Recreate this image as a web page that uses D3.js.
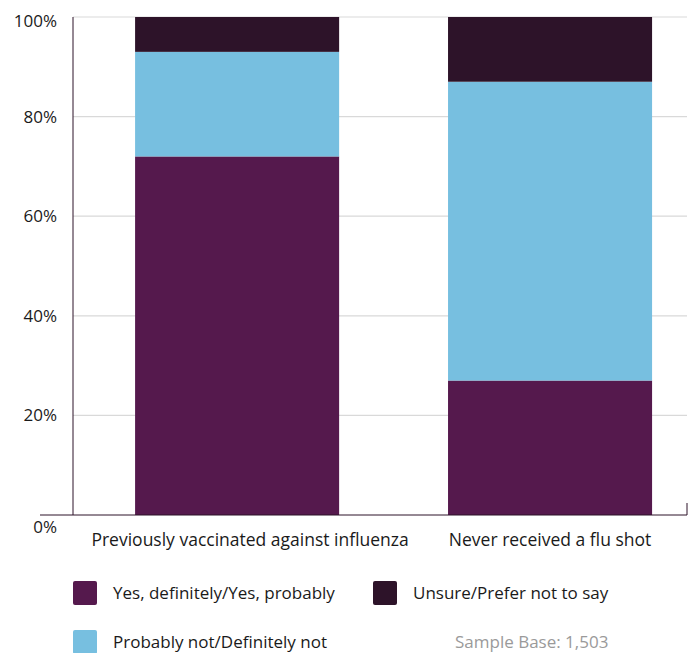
<!DOCTYPE html>
<html>
<head>
<meta charset="utf-8">
<script src="https://cdn.jsdelivr.net/npm/d3@7"></script>
<style>
  body { margin: 0; background: #fff; }
  text { font-family: "Open Sans", sans-serif; fill: #1a1a1a; }
</style>
</head>
<body>
<svg width="693" height="653"></svg>
<script>
var categories = ["Previously vaccinated against influenza", "Never received a flu shot"];
var seriesNames = ["Yes, definitely/Yes, probably", "Probably not/Definitely not", "Unsure/Prefer not to say"];
var yesValues = [72, 27];
var noValues = [21, 60];
var unsureValues = [7, 13];
var yTicks = [0, 20, 40, 60, 80, 100];
var colors = ["#55194d", "#77bfe0", "#2d1329"];

var svg = d3.select("svg");
var plotLeft = 73, plotRight = 687, plotTop = 17, plotBottom = 515;

var rows = categories.map(function (c, i) {
    return { cat: c, yes: yesValues[i], no: noValues[i], unsure: unsureValues[i] };
});
var keys = ["yes", "no", "unsure"];
var stack = d3.stack().keys(keys)(rows);

var x = d3.scaleBand()
    .domain(categories)
    .range([plotLeft, plotRight])
    .paddingInner(0.348)
    .paddingOuter(0.155)
    .align(0.64);

var y = d3.scaleLinear().domain([0, 100]).range([plotBottom, plotTop]);

// gridlines
svg.append("g")
    .selectAll("line")
    .data(yTicks.filter(function (d) { return d > 0; }))
    .enter().append("line")
    .attr("x1", plotLeft).attr("x2", plotRight)
    .attr("y1", function (d) { return y(d); })
    .attr("y2", function (d) { return y(d); })
    .style("stroke", "#d9d9d9")
    .style("stroke-width", 1.2);

// bars
svg.append("g")
    .selectAll("g")
    .data(stack)
    .enter().append("g")
    .attr("fill", function (d, i) { return colors[i]; })
    .selectAll("rect")
    .data(function (d) { return d; })
    .enter().append("rect")
    .attr("x", function (d) { return x(d.data.cat); })
    .attr("width", x.bandwidth())
    .attr("y", function (d) { return y(d[1]); })
    .attr("height", function (d) { return y(d[0]) - y(d[1]); });

// axes lines
svg.append("line")
    .attr("x1", plotLeft).attr("x2", plotLeft)
    .attr("y1", plotTop).attr("y2", plotBottom)
    .style("stroke", "#2d1329").style("stroke-width", 1);
svg.append("line")
    .attr("x1", 40).attr("x2", plotRight)
    .attr("y1", plotBottom).attr("y2", plotBottom)
    .style("stroke", "#2d1329").style("stroke-width", 1);
svg.append("line")
    .attr("x1", plotRight).attr("x2", plotRight)
    .attr("y1", plotBottom - 12).attr("y2", plotBottom)
    .style("stroke", "#2d1329").style("stroke-width", 1);

// y tick labels
svg.append("g")
    .selectAll("text")
    .data(yTicks)
    .enter().append("text")
    .attr("x", 57)
    .attr("y", function (d) {
        if (d === 0) return y(d) + 18;
        if (d === 100) return y(d) + 10;
        return y(d) + 6;
    })
    .attr("text-anchor", "end")
    .style("font-size", "17px")
    .text(function (d) { return d + "%"; });

// category labels
var labelShift = [13, 0];
svg.append("g")
    .selectAll("text")
    .data(categories)
    .enter().append("text")
    .attr("x", function (d, i) { return x(d) + x.bandwidth() / 2 + labelShift[i]; })
    .attr("y", 546)
    .attr("text-anchor", "middle")
    .style("font-size", "17.5px")
    .text(function (d) { return d; });

// legend
var legendPos = [[73, 581], [73, 630], [373, 581]];
var legend = svg.append("g")
    .selectAll("g")
    .data(seriesNames)
    .enter().append("g")
    .attr("transform", function (d, i) { return "translate(" + legendPos[i][0] + "," + legendPos[i][1] + ")"; });
legend.append("rect")
    .attr("width", 24).attr("height", 24).attr("rx", 2)
    .attr("fill", function (d, i) { return colors[i]; });
legend.append("text")
    .attr("x", 40).attr("y", 18)
    .style("font-size", "17px")
    .text(function (d) { return d; });

svg.append("text")
    .attr("x", 455).attr("y", 648)
    .style("font-size", "17px")
    .style("fill", "#9a9a9a")
    .text("Sample Base: 1,503");
</script>
</body>
</html>
